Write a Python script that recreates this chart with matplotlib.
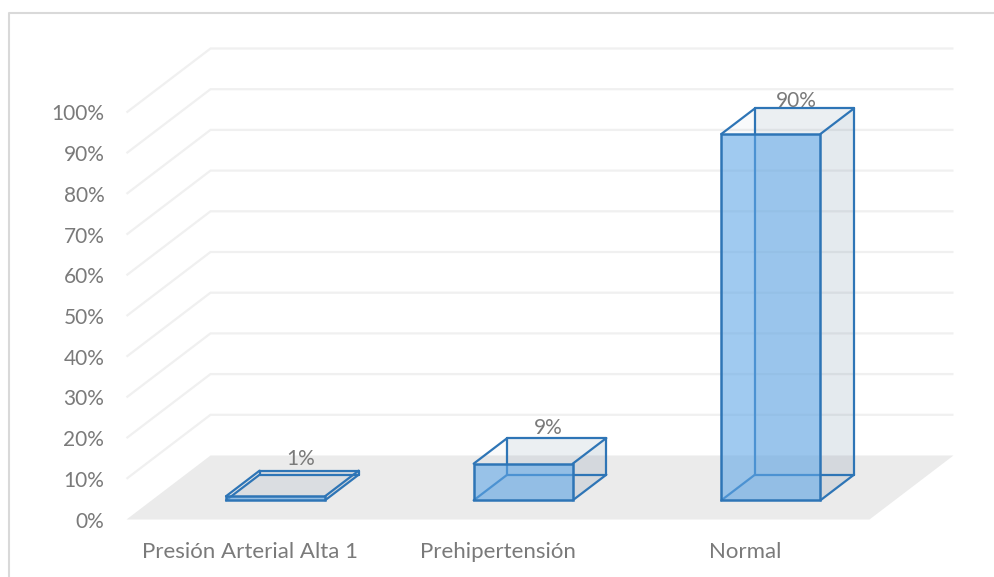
import matplotlib
matplotlib.use("Agg")
import matplotlib.pyplot as plt
from matplotlib.lines import Line2D
from matplotlib.patches import Polygon

categories = ["Presión Arterial Alta 1", "Prehipertensión", "Normal"]
percentages = [1, 9, 90]
value_ticks = [0, 10, 20, 30, 40, 50, 60, 70, 80, 90, 100]
value_labels = [f"{v}%" for v in value_ticks]

fig_w, fig_h = 995, 577
left_px, right_px = 126.5, 869.5
zero_px, top_px = 519.5, 112.5

# the oblique depth of the box, in data units (categories and percent)
depth_x = 84 / ((right_px - left_px) / 3)
depth_y = 64 / ((zero_px - top_px) / 100)

bar_width = 0.4
bar_front, bar_back = 0.3, 0.7
label_depth = 0.6
label_lift = [12, 10, 7]

grey_text = "#7a7a7a"
grid_color = "#f0f0f0"
floor_color = "#ebebeb"
edge_color = "#2e75b6"
front_fill = "#61a7e6"
glass_fill = "#44688a"

plt.rcParams["font.family"] = ["Lato", "DejaVu Sans"]


def project(x, value, depth):
    return (x + depth * depth_x, value + depth * depth_y)


def face(ax, corners, color, alpha, z):
    ax.add_patch(Polygon(corners, closed=True, facecolor=color, alpha=alpha,
                         edgecolor="none", zorder=z, clip_on=False))


def draw_bar(ax, center, value, z):
    x0 = center - bar_width / 2
    x1 = center + bar_width / 2
    fbl = project(x0, 0, bar_front)
    fbr = project(x1, 0, bar_front)
    ftl = project(x0, value, bar_front)
    ftr = project(x1, value, bar_front)
    bbl = project(x0, 0, bar_back)
    bbr = project(x1, 0, bar_back)
    btl = project(x0, value, bar_back)
    btr = project(x1, value, bar_back)

    face(ax, [fbl, fbr, bbr, bbl], glass_fill, 0.07, z)
    face(ax, [bbl, bbr, btr, btl], glass_fill, 0.07, z)
    face(ax, [fbr, bbr, btr, ftr], glass_fill, 0.07, z)
    face(ax, [ftl, ftr, btr, btl], glass_fill, 0.03, z)

    hidden = [(bbl, bbr), (bbr, btr), (btr, btl), (btl, bbl), (bbl, fbl),
              (bbr, fbr), (ftl, btl), (ftr, btr)]
    for a, b in hidden:
        ax.plot([a[0], b[0]], [a[1], b[1]], color=edge_color, lw=1.6,
                solid_capstyle="round", zorder=z + 1, clip_on=False)

    face(ax, [fbl, fbr, ftr, ftl], front_fill, 0.6, z + 2)
    ax.add_patch(Polygon([fbl, fbr, ftr, ftl], closed=True, fill=False,
                         edgecolor=edge_color, lw=1.8, zorder=z + 3, clip_on=False))


fig = plt.figure(figsize=(fig_w / 100, fig_h / 100), dpi=100, facecolor="white")
ax = fig.add_axes([left_px / fig_w, 1 - zero_px / fig_h,
                   (right_px - left_px) / fig_w, (zero_px - top_px) / fig_h])
ax.set_xlim(0, len(categories))
ax.set_ylim(0, 100)
ax.patch.set_visible(False)
for spine in ax.spines.values():
    spine.set_visible(False)

ax.set_yticks(value_ticks)
ax.set_yticklabels(value_labels)
ax.set_xticks([i + 0.5 for i in range(len(categories))])
ax.set_xticklabels(categories)
ax.tick_params(axis="y", length=0, pad=16, labelsize=15, labelcolor=grey_text)
ax.tick_params(axis="x", length=0, pad=16, labelsize=16, labelcolor=grey_text)

# floor and wall gridlines
n = len(categories)
ax.add_patch(Polygon([project(0, 0, 0), project(n, 0, 0), project(n, 0, 1), project(0, 0, 1)],
                     closed=True, facecolor=floor_color, edgecolor="none", zorder=1,
                     clip_on=False))
for v in value_ticks[1:]:
    a = project(0, v, 0)
    b = project(0, v, 1)
    c = project(n, v, 1)
    ax.plot([a[0], b[0], c[0]], [a[1], b[1], c[1]], color=grid_color, lw=1.6,
            solid_joinstyle="miter", solid_capstyle="butt", zorder=1, clip_on=False)

for i, value in enumerate(percentages):
    draw_bar(ax, i + 0.5, value, 3 + i * 5)
    tx, ty = project(i + 0.5, value, bar_back)
    tx = project(i + 0.5, value, label_depth)[0]
    ax.annotate(f"{value}%", (tx, ty), xytext=(0, label_lift[i] * 0.72),
                textcoords="offset points", ha="center", va="center", fontsize=15,
                color=grey_text, zorder=30, annotation_clip=False)

# outer chart frame: only the top and left edges fall inside the image
frame_x = 8.5 / fig_w
frame_y = 1 - 13 / fig_h
fig.add_artist(Line2D([frame_x, frame_x, 1], [0, frame_y, frame_y],
                      transform=fig.transFigure, color="#d9d9d9", lw=1.5))

fig.savefig("out.png", dpi=100)
